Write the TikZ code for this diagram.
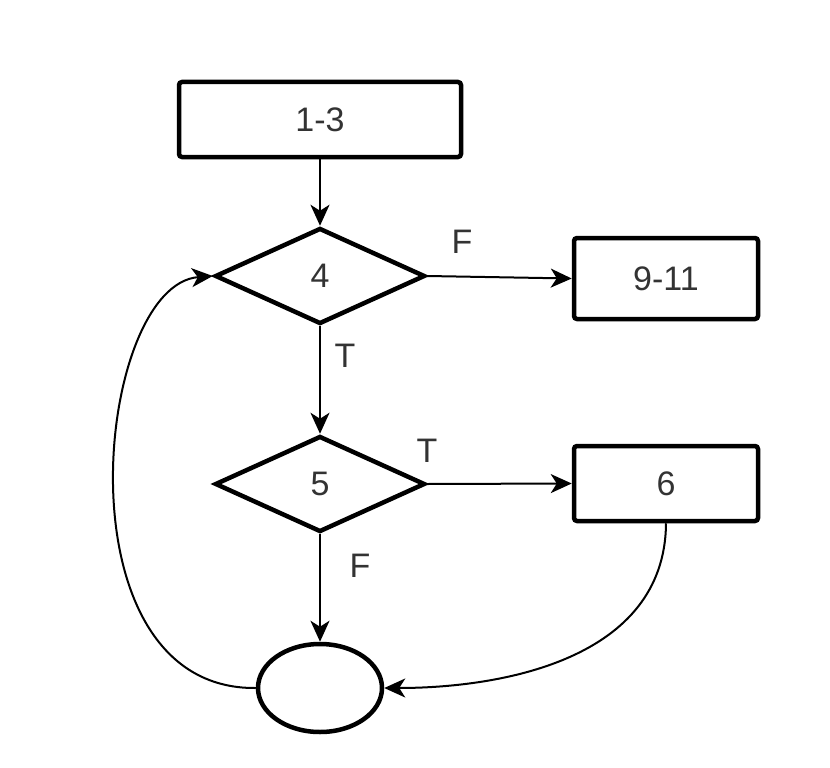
\documentclass[tikz,border=0pt]{standalone}
\usepackage{fontspec}
\setmainfont{Liberation Sans}
\usetikzlibrary{shapes.geometric,arrows.meta}
\begin{document}
\begin{tikzpicture}[x=1pt,y=-1pt,
  box/.style={draw,line width=4.5pt,rounded corners=3pt,inner sep=0pt,font=\fontsize{34}{40}\selectfont,text=black!80},
  dec/.style={draw,diamond,line width=4.5pt,inner sep=0pt,minimum width=210pt,minimum height=96pt,font=\fontsize{34}{40}\selectfont,text=black!80},
  conn/.style={line width=2pt,-{Stealth[length=21pt,width=19pt,inset=6pt]}},
  lbl/.style={font=\fontsize{34}{40}\selectfont,text=black!80}]
\useasboundingbox (0,0) rectangle (830,768);
\node[box,minimum width=282pt,minimum height=75pt] (b13) at (320,119.5) {1-3};
\node[dec] (d4) at (320,276) {4};
\node[box,minimum width=184pt,minimum height=81pt] (b911) at (666,278.5) {9-11};
\node[dec] (d5) at (320,484) {5};
\node[box,minimum width=184pt,minimum height=75pt] (b6) at (666,483.5) {6};
\node[draw,ellipse,line width=4.5pt,minimum width=124pt,minimum height=88pt,inner sep=0pt] (e) at (320,688) {};
\draw[conn] (b13) -- (d4.north);
\draw[conn] (d4.east) -- (b911.west);
\draw[conn] (d4.south) -- (d5.north);
\draw[conn] (d5.east) -- (b6.west);
\draw[conn] (d5.south) -- (e.north);
\draw[conn] (e.west) .. controls (55,690) and (95,285) .. (d4.west);
\draw[conn] (b6.south) .. controls (665,660) and (500,688) .. (e.east);
\node[lbl] (lf1) at (462,242) {F};
\node[lbl] (lt1) at (345,356) {T};
\node[lbl] (lt2) at (427,451) {T};
\node[lbl] (lf2) at (360,566) {F};
\end{tikzpicture}
\end{document}
